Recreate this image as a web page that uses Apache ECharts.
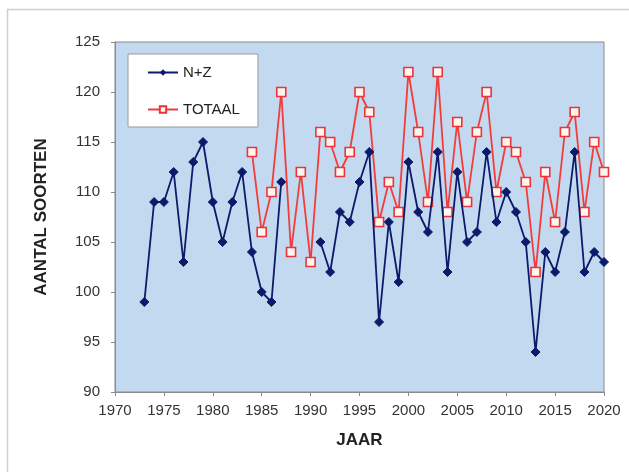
<!DOCTYPE html>
<html>
<head>
<meta charset="utf-8">
<script src="https://cdn.jsdelivr.net/npm/echarts@6/dist/echarts.min.js"></script>
<style>
  html, body { margin: 0; padding: 0; background: #fff; }
  #chart { width: 629px; height: 472px; }
</style>
</head>
<body>
<div id="chart"></div>
<script>
// N+Z per jaar (1973-2020), geen telling 1988-1990
const nzYears = [1973, 1974, 1975, 1976, 1977, 1978, 1979, 1980, 1981, 1982, 1983, 1984, 1985, 1986, 1987,
  1988, 1989, 1990, 1991, 1992, 1993, 1994, 1995, 1996, 1997, 1998, 1999, 2000, 2001, 2002, 2003, 2004,
  2005, 2006, 2007, 2008, 2009, 2010, 2011, 2012, 2013, 2014, 2015, 2016, 2017, 2018, 2019, 2020];
const nzValues = [99, 109, 109, 112, 103, 113, 115, 109, 105, 109, 112, 104, 100, 99, 111,
  null, null, null, 105, 102, 108, 107, 111, 114, 97, 107, 101, 113, 108, 106, 114, 102,
  112, 105, 106, 114, 107, 110, 108, 105, 94, 104, 102, 106, 114, 102, 104, 103];

// TOTAAL per jaar (1984-2020)
const totYears = [1984, 1985, 1986, 1987, 1988, 1989, 1990, 1991, 1992, 1993, 1994, 1995, 1996, 1997,
  1998, 1999, 2000, 2001, 2002, 2003, 2004, 2005, 2006, 2007, 2008, 2009, 2010, 2011, 2012, 2013,
  2014, 2015, 2016, 2017, 2018, 2019, 2020];
const totValues = [114, 106, 110, 120, 104, 112, 103, 116, 115, 112, 114, 120, 118, 107,
  111, 108, 122, 116, 109, 122, 108, 117, 109, 116, 120, 110, 115, 114, 111, 102,
  112, 107, 116, 118, 108, 115, 112];

const seriesNames = ['N+Z', 'TOTAAL'];

const chart = echarts.init(document.getElementById('chart'));

const option = {
  backgroundColor: '#fff',
  animation: false,
  textStyle: { fontFamily: 'Liberation Sans, Arial, sans-serif' },
  graphic: [{
    type: 'rect',
    left: 5, top: 7,
    shape: { width: 700, height: 520 },
    style: { fill: 'none', stroke: '#cfcfcf', lineWidth: 1.5 },
    z: -1
  }],
  grid: {
    left: 115, right: 25, top: 42, bottom: 80,
    show: true,
    backgroundColor: '#c3d9f0',
    borderColor: '#8a8a8a',
    borderWidth: 1
  },
  legend: {
    data: seriesNames,
    orient: 'vertical',
    left: 128, top: 54,
    padding: [11, 18, 10, 19],
    itemGap: 22,
    itemWidth: 30,
    itemHeight: 8,
    backgroundColor: '#fff',
    borderColor: '#9a9a9a',
    borderWidth: 1,
    textStyle: { color: '#222', fontSize: 15, fontFamily: 'Liberation Sans, Arial, sans-serif' }
  },
  xAxis: {
    type: 'value',
    min: 1970, max: 2020, interval: 5,
    name: 'JAAR',
    nameLocation: 'middle',
    nameGap: 40,
    nameTextStyle: { fontWeight: 'bold', fontSize: 17, color: '#222' },
    axisLine: { lineStyle: { color: '#8a8a8a' } },
    axisTick: { show: true, length: 4, lineStyle: { color: '#8a8a8a' } },
    axisLabel: { color: '#333', fontSize: 15, margin: 11, formatter: v => String(v) },
    splitLine: { show: false }
  },
  yAxis: {
    type: 'value',
    min: 90, max: 125, interval: 5,
    name: 'AANTAL SOORTEN',
    nameLocation: 'middle',
    nameGap: 65,
    nameTextStyle: { fontWeight: 'bold', fontSize: 17, color: '#222' },
    axisLine: { show: true, lineStyle: { color: '#8a8a8a' } },
    axisTick: { show: true, length: 4, lineStyle: { color: '#8a8a8a' } },
    axisLabel: { color: '#333', fontSize: 15, margin: 15 },
    splitLine: { show: false }
  },
  series: [
    {
      name: seriesNames[0],
      type: 'line',
      data: nzYears.map((y, i) => [y, nzValues[i]]),
      connectNulls: false,
      symbol: 'diamond',
      symbolSize: 9,
      lineStyle: { color: '#0b1a6b', width: 1.8 },
      itemStyle: { color: '#0b1a6b', borderColor: '#0b1a6b' },
      z: 3
    },
    {
      name: seriesNames[1],
      type: 'line',
      data: totYears.map((y, i) => [y, totValues[i]]),
      symbol: 'rect',
      symbolSize: 9,
      showAllSymbol: true,
      lineStyle: { color: '#f23c3c', width: 1.8 },
      itemStyle: { color: '#fff6ee', borderColor: '#e8343a', borderWidth: 1.6 },
      z: 2
    }
  ]
};

chart.setOption(option);
</script>
</body>
</html>
